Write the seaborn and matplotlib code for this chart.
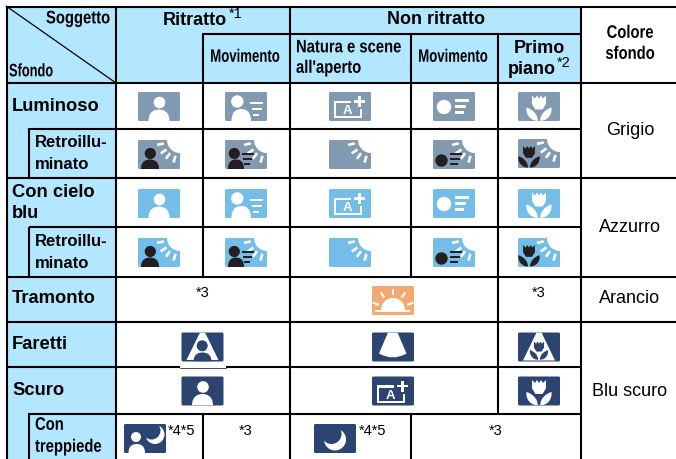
import numpy as np
import seaborn as sns
import matplotlib.pyplot as plt
from matplotlib.colors import ListedColormap
from matplotlib.patches import Circle, FancyBboxPatch, PathPatch, Polygon, Rectangle, Wedge
from matplotlib.patheffects import AbstractPathEffect
from matplotlib.path import Path
from matplotlib.transforms import Affine2D

# table layout, in pixels of the 676x460 page
col_edges = [0, 6, 116, 203, 290, 411, 498, 581, 676]
row_edges = [0, 7, 34, 83, 129, 178, 228, 278, 323, 368, 414, 460]

# 1 = light blue header cell
fill_cells = [
    [0, 0, 0, 0, 0, 0, 0, 0],
    [0, 1, 1, 1, 1, 1, 1, 0],
    [0, 1, 1, 1, 1, 1, 1, 0],
    [0, 1, 0, 0, 0, 0, 0, 0],
    [0, 1, 0, 0, 0, 0, 0, 0],
    [0, 1, 0, 0, 0, 0, 0, 0],
    [0, 1, 0, 0, 0, 0, 0, 0],
    [0, 1, 0, 0, 0, 0, 0, 0],
    [0, 1, 0, 0, 0, 0, 0, 0],
    [0, 1, 0, 0, 0, 0, 0, 0],
    [0, 1, 0, 0, 0, 0, 0, 0],
]
fill_colors = ['#ffffff', '#b3e6ff']

# rules: (position, start, end)
h_rules = [
    (7.5, 6, 676), (34.5, 203, 581), (83.5, 6, 676), (129.5, 29, 581),
    (178.5, 6, 676), (228, 29, 581), (278, 6, 676), (323, 6, 676),
    (368, 6, 180), (368, 226, 581), (414.5, 29, 581),
]
v_rules = [
    (6.5, 7, 460), (116, 7, 460), (203, 34, 278), (203, 414, 460),
    (290, 7, 460), (411, 34, 278), (411, 414, 460), (498, 34, 414),
    (581, 7, 460), (29, 129, 178), (29, 228, 278), (29, 414, 460),
]

GREY = '#829ab1'
SKY = '#74bde9'
NAVY = '#2b4471'
ORANGE = '#f3a86f'

# icon: (kind, colour, centre x, centre y)
icons = [
    ('person', GREY, 159, 107.5), ('person_move', GREY, 246, 107.5),
    ('scene', GREY, 350, 107.5), ('dot_move', GREY, 454, 107.5),
    ('tulip', GREY, 539, 107.5),
    ('back_person', GREY, 159, 155.5), ('back_person_move', GREY, 246, 155.5),
    ('back', GREY, 350, 155.5), ('back_dot_move', GREY, 454, 155.5),
    ('back_tulip', GREY, 539, 154.5),
    ('person', SKY, 159, 204.5), ('person_move', SKY, 246, 204.5),
    ('scene', SKY, 350, 204.5), ('dot_move', SKY, 454, 204.5),
    ('tulip', SKY, 539, 204.5),
    ('back_person', SKY, 159, 253.5), ('back_person_move', SKY, 246, 253.5),
    ('back', SKY, 350, 253.5), ('back_dot_move', SKY, 454, 253.5),
    ('back_tulip', SKY, 539, 253.5),
    ('sunset', ORANGE, 393, 301.5),
    ('spot_person', NAVY, 202.5, 348), ('spot', NAVY, 393, 348),
    ('spot_tulip', NAVY, 539, 348),
    ('person', NAVY, 202.5, 392), ('scene', NAVY, 393, 392),
    ('tulip', NAVY, 539, 392),
    ('night_person', NAVY, 145, 439.5), ('night', NAVY, 335, 439.5),
]

SANS = ['Liberation Sans']

# text: (string, x, y, horizontal align, size, bold, horizontal squeeze)
labels = [
    ('Soggetto', 46, 18.5, 'left', 13, True, 0.82),
    ('Sfondo', 9, 71.5, 'left', 13, True, 0.71),
    ('Ritratto', 163, 19, 'left', 13, True, 1),
    ('Non ritratto', 436, 18.5, 'center', 13, True, 1),
    ('Movimento', 245, 57, 'center', 13, True, 0.73),
    ('Natura e scene', 296, 47.5, 'left', 13, True, 0.82),
    ("all'aperto", 296, 68, 'left', 13, True, 0.82),
    ('Movimento', 453, 57, 'center', 13, True, 0.73),
    ('Primo', 539, 47, 'center', 13, True, 1),
    ('piano', 508, 68, 'left', 13, True, 1),
    ('Colore', 630, 33, 'center', 13, True, 0.82),
    ('sfondo', 630, 54, 'center', 13, True, 0.82),
    ('Luminoso', 12, 105, 'left', 13.2, True, 1),
    ('Retroillu-', 35, 141, 'left', 12, True, 1),
    ('minato', 35, 163, 'left', 12, True, 1),
    ('Con cielo', 12, 191, 'left', 13.2, True, 1),
    ('blu', 12, 212, 'left', 13.2, True, 1),
    ('Retroillu-', 35, 240, 'left', 12, True, 1),
    ('minato', 35, 262, 'left', 12, True, 1),
    ('Tramonto', 12, 297, 'left', 13.2, True, 1),
    ('Faretti', 12, 343, 'left', 13.2, True, 1),
    ('Scuro', 12, 389, 'left', 13.2, True, 1),
    ('Con', 35, 425, 'left', 13, True, 0.82),
    ('treppiede', 35, 447, 'left', 13, True, 0.82),
    ('Grigio', 630, 129, 'center', 13, False, 1),
    ('Azzurro', 630, 226, 'center', 13, False, 1),
    ('Arancio', 630, 297, 'center', 13, False, 1),
    ('Blu scuro', 630, 390, 'center', 13, False, 1),
    ('*1', 229, 13, 'left', 10.5, False, 1),
    ('*2', 557, 62, 'left', 10.5, False, 1),
    ('*3', 203, 292, 'center', 10.5, False, 1),
    ('*3', 539, 292, 'center', 10.5, False, 1),
    ('*3', 246, 430, 'center', 10.5, False, 1),
    ('*3', 496, 430, 'center', 10.5, False, 1),
    ('*4*5', 168, 430, 'left', 10.5, False, 1),
    ('*4*5', 359, 430, 'left', 10.5, False, 1),
]

INK = '#231f20'
ICON_W = 42
ICON_H = 29
TEXT_SHIFT = 1.3


class Squeeze(AbstractPathEffect):
    # no condensed font is installed, so narrow the glyphs around the text anchor
    def __init__(self, factor, anchor):
        super().__init__()
        self.factor = factor
        self.anchor = anchor

    def draw_path(self, renderer, gc, tpath, affine, rgbFace=None):
        narrow = affine + Affine2D().translate(-self.anchor, 0).scale(self.factor, 1).translate(self.anchor, 0)
        renderer.draw_path(gc, tpath, narrow, rgbFace)


def add_body(ax, x0, y0, left, right, top, color, bottom=ICON_H):
    mid = (left + right) / 2
    verts = [(left, bottom), (left, top + 1), (mid - 3, top), (mid, top),
             (mid + 3, top), (right, top + 1), (right, bottom), (left, bottom)]
    codes = [Path.MOVETO, Path.CURVE4, Path.CURVE4, Path.CURVE4,
             Path.CURVE4, Path.CURVE4, Path.CURVE4, Path.CLOSEPOLY]
    verts = [(x0 + vx, y0 + vy) for vx, vy in verts]
    ax.add_patch(PathPatch(Path(verts, codes), fc=color, ec='none'))


def add_person(ax, x0, y0, hx, hy, r, left, right, top, color):
    ax.add_patch(Circle((x0 + hx, y0 + hy), r, fc=color, ec='none'))
    add_body(ax, x0, y0, left, right, top, color)


def add_bars(ax, x0, y0, bars, color):
    for left, right, y in bars:
        ax.add_patch(Rectangle((x0 + left, y0 + y - 1.1), right - left, 2.2, fc=color, ec='none'))


def add_sun(ax, x0, y0):
    corner = np.array([x0 + ICON_W, y0])
    ax.add_patch(Wedge(tuple(corner), 13, 90, 180, fc='white', ec='none'))
    for ang in [12, 35, 53, 74]:
        a = np.radians(ang)
        d = np.array([-np.cos(a), np.sin(a)])
        n = np.array([d[1], -d[0]]) * 1.3
        p0, p1 = corner + d * 16.5, corner + d * 23.5
        ax.add_patch(Polygon([p0 + n, p1 + n, p1 - n, p0 - n], fc='white', ec='none'))


def add_tulip(ax, x0, y0, cx, color, scale=1.0, oy=0.0):
    def pt(x, y):
        return (x0 + cx + x * scale, y0 + oy + y * scale)
    ax.add_patch(Polygon([pt(-7, 3.5), pt(-7, 12), pt(-3.5, 17.5), pt(3.5, 17.5), pt(7, 12), pt(7, 3.5),
                          pt(4, 6.5), pt(2, 3.5), pt(0, 6.5), pt(-2, 3.5), pt(-4, 6.5)],
                         fc=color, ec='none'))
    for sign in (-1, 1):
        verts = [pt(sign * 1.2, 28.8), pt(sign * 1.2, 22), pt(sign * 7, 17), pt(sign * 12.5, 15.5),
                 pt(sign * 13.5, 23), pt(sign * 8, 29), pt(sign * 1.2, 28.8), pt(sign * 1.2, 28.8)]
        codes = [Path.MOVETO, Path.CURVE4, Path.CURVE4, Path.CURVE4,
                 Path.CURVE4, Path.CURVE4, Path.CURVE4, Path.CLOSEPOLY]
        ax.add_patch(PathPatch(Path(verts, codes), fc=color, ec='none'))


def draw_icon(ax, kind, color, cx, cy):
    x0, y0 = cx - ICON_W / 2, cy - ICON_H / 2
    box = FancyBboxPatch((x0 + 1, y0 + 1), ICON_W - 2, ICON_H - 2,
                         boxstyle='round,pad=1,rounding_size=1.5', fc=color, ec='none')
    ax.add_patch(box)
    first = len(ax.patches)
    if kind == 'person':
        add_person(ax, x0, y0, 21.5, 10.5, 5.8, 10.5, 31.5, 17.5, 'white')
    elif kind == 'person_move':
        add_person(ax, x0, y0, 12.3, 9.5, 6.2, 6.5, 26, 17, 'white')
        add_bars(ax, x0, y0, [(25, 38, 11), (27, 37, 17), (27.5, 33.5, 23)], 'white')
    elif kind == 'dot_move':
        ax.add_patch(Circle((x0 + 11, y0 + 15), 7.2, fc='white', ec='none'))
        add_bars(ax, x0, y0, [(22, 36, 8.5), (22, 33, 14.5), (22, 31, 20.5)], 'white')
    elif kind == 'scene':
        ax.add_patch(Rectangle((x0 + 5, y0 + 8.5), 17, 2.8, fc='white', ec='none'))
        ax.add_patch(Rectangle((x0 + 5, y0 + 8.5), 1.9, 17.5, fc='white', ec='none'))
        ax.add_patch(Rectangle((x0 + 5, y0 + 24.2), 27.5, 1.9, fc='white', ec='none'))
        ax.add_patch(Rectangle((x0 + 30.6, y0 + 17), 1.9, 9, fc='white', ec='none'))
        ax.add_patch(Rectangle((x0 + 25, y0 + 8.4), 11, 2.2, fc='white', ec='none'))
        ax.add_patch(Rectangle((x0 + 29.4, y0 + 4), 2.2, 11, fc='white', ec='none'))
        ax.text(x0 + 18.3, y0 + 18.3, 'A', color='white', fontsize=9.5, fontweight='bold',
                family=SANS, ha='center', va='center')
    elif kind == 'tulip':
        add_tulip(ax, x0, y0, 21, 'white')
    elif kind == 'back':
        add_sun(ax, x0, y0)
    elif kind == 'back_person':
        add_sun(ax, x0, y0)
        add_person(ax, x0, y0, 12.3, 13.5, 5.6, 3, 21, 19.5, INK)
    elif kind == 'back_person_move':
        add_sun(ax, x0, y0)
        add_person(ax, x0, y0, 9.3, 13.5, 5.6, 3, 19, 19.5, INK)
        add_bars(ax, x0, y0, [(17, 29, 14), (18, 27, 19), (19, 25, 24)], INK)
    elif kind == 'back_dot_move':
        add_sun(ax, x0, y0)
        ax.add_patch(Circle((x0 + 8.5, y0 + 20.5), 6.2, fc=INK, ec='none'))
        add_bars(ax, x0, y0, [(17, 29, 14), (17, 27, 19), (17, 25, 24)], INK)
    elif kind == 'back_tulip':
        add_sun(ax, x0, y0)
        add_tulip(ax, x0, y0, 11, INK, scale=0.85, oy=4)
    elif kind == 'sunset':
        ax.add_patch(Wedge((cx, y0 + 24), 12, 180, 360, fc='white', ec='none'))
        ax.add_patch(Rectangle((x0 + 3, y0 + 24), 35, 2, fc='white', ec='none'))
        c = np.array([cx, y0 + 24])
        for ang in [20, 55, 90, 125, 160]:
            a = np.radians(ang)
            d = np.array([np.cos(a), -np.sin(a)])
            n = np.array([d[1], -d[0]]) * 1.1
            p0, p1 = c + d * 15, c + d * 21.5
            ax.add_patch(Polygon([p0 + n, p1 + n, p1 - n, p0 - n], fc='white', ec='none'))
    elif kind == 'spot':
        verts = [(x0 + 16, y0), (x0 + 25.5, y0), (x0 + 34.5, y0 + 21),
                 (x0 + 21, y0 + 29), (x0 + 7, y0 + 21), (x0 + 7, y0 + 21)]
        codes = [Path.MOVETO, Path.LINETO, Path.LINETO, Path.CURVE3, Path.CURVE3, Path.CLOSEPOLY]
        ax.add_patch(PathPatch(Path(verts, codes), fc='white', ec='none'))
    elif kind == 'spot_person':
        ax.add_patch(Polygon([(x0 + 18.5, y0), (x0 + 23.5, y0), (x0 + 37, y0 + 27.5), (x0 + 5, y0 + 27.5)],
                             fc='white', ec='none'))
        add_person(ax, x0, y0, 20.7, 13.3, 5.5, 12, 30, 20, color)
    elif kind == 'spot_tulip':
        ax.add_patch(Polygon([(x0 + 18.5, y0), (x0 + 23.5, y0), (x0 + 37, y0 + 28), (x0 + 5, y0 + 28)],
                             fc='white', ec='none'))
        add_tulip(ax, x0, y0, 21, color, scale=0.72, oy=6.5)
    elif kind == 'night_person':
        ax.add_patch(Circle((x0 + 31, y0 + 10.5), 9.5, fc='white', ec='none'))
        ax.add_patch(Circle((x0 + 27.5, y0 + 6.5), 9, fc=color, ec='none'))
        add_person(ax, x0, y0, 12, 13, 5, 4.5, 21, 20, 'white')
    elif kind == 'night':
        ax.add_patch(Circle((x0 + 21, y0 + 15.5), 11, fc='white', ec='none'))
        ax.add_patch(Circle((x0 + 17.5, y0 + 10), 10, fc=color, ec='none'))
    for patch in ax.patches[first:]:
        patch.set_clip_path(box)


sns.set_theme(style='white')
plt.rcParams['font.family'] = SANS

fig = plt.figure(figsize=(6.76, 4.6), dpi=100)
ax = fig.add_axes([0, 0, 1, 1])

# one heatmap bin per pixel, so the data units of the axes are page pixels
fill = np.repeat(np.repeat(np.array(fill_cells), np.diff(row_edges), axis=0), np.diff(col_edges), axis=1)
sns.heatmap(fill, ax=ax, cmap=ListedColormap(fill_colors), vmin=0, vmax=1, cbar=False,
            xticklabels=False, yticklabels=False)
ax.set_xlim(0, 676)
ax.set_ylim(460, 0)

for y, x_from, x_to in h_rules:
    ax.plot([x_from, x_to], [y, y], color='black', lw=1.5, solid_capstyle='butt')
for x, y_from, y_to in v_rules:
    ax.plot([x, x], [y_from, y_to], color='black', lw=1.5, solid_capstyle='butt')
ax.plot([180, 226], [368.8, 368.8], color='black', lw=0.5)
ax.plot([6, 116], [7, 84], color='black', lw=0.9)

for kind, color, cx, cy in icons:
    draw_icon(ax, kind, color, cx, cy)

for text, x, y, ha, size, bold, squeeze in labels:
    t = ax.text(x, y + TEXT_SHIFT, text, ha=ha, va='center', fontsize=size, color='black',
                fontweight='bold' if bold else 'normal', family=SANS)
    if squeeze != 1:
        t.set_path_effects([Squeeze(squeeze, x)])

fig.savefig('out.png', dpi=100)
